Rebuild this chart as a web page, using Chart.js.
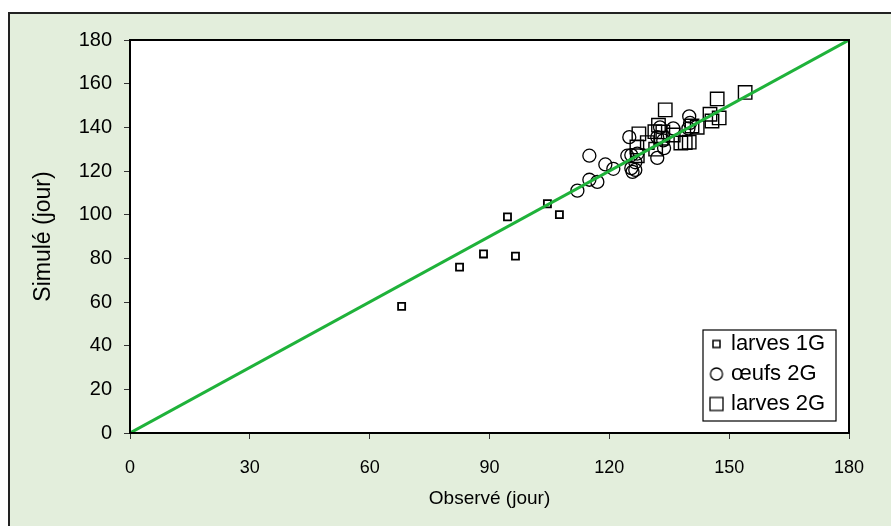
<!DOCTYPE html>
<html>
<head>
<meta charset="utf-8">
<script src="https://cdn.jsdelivr.net/npm/chart.js@4/dist/chart.umd.min.js"></script>
<style>
  body { margin: 0; background: #fff; }
</style>
</head>
<body>
<canvas id="chart" width="891" height="526"></canvas>
<script>
// axis ticks
const xTicks = [0, 30, 60, 90, 120, 150, 180];
const yTicks = [0, 20, 40, 60, 80, 100, 120, 140, 160, 180];

// larves 1G (small squares)
const larves1gX = [68, 82.5, 88.5, 94.5, 96.5, 104.5, 107.5];
const larves1gY = [58, 76, 82, 99, 81, 105, 100];

// oeufs 2G (circles)
const oeufsX = [112, 115, 115, 117, 119, 121, 125, 125.5, 125.5, 126.5, 125.8, 126.5, 132, 133.7, 133.5, 132, 132.7, 136, 140, 139.8, 140.2, 124.5, 127];
const oeufsY = [111, 127, 116, 115, 123, 121, 135.5, 127.3, 121.3, 120.5, 119.6, 124, 126, 130.5, 134, 135.5, 140, 139.5, 145, 139.5, 142, 127, 128];

// larves 2G (big squares)
const larves2gX = [154, 147, 134, 145.2, 145.7, 147.5, 140.7, 140, 137.9, 136, 132.3, 131.4, 127.4, 126.9, 131.6, 133.4, 127, 129.5, 133, 142, 139];
const larves2gY = [156, 153, 148, 146, 142.9, 144.3, 140.6, 133.2, 132.8, 136.5, 141, 138, 137, 131, 130, 137.9, 127, 133, 135, 140, 133];

const pairs = (xs, ys) => xs.map((x, i) => ({x: x, y: ys[i]}));

// little canvases for the legend markers
function marker(kind, size, lw) {
    const c = document.createElement('canvas');
    c.width = c.height = size + 4;
    const g = c.getContext('2d');
    g.strokeStyle = '#000';
    g.lineWidth = lw;
    const m = (size + 4) / 2;
    if (kind === 'circle') {
        g.beginPath();
        g.arc(m, m, size / 2, 0, Math.PI * 2);
        g.stroke();
    } else {
        g.strokeRect(m - size / 2, m - size / 2, size, size);
    }
    return c;
}
const legendMarkers = [marker('rect', 7, 1.5), marker('circle', 12, 1.3), marker('rect', 13, 1.3)];

const framePlugin = {
    id: 'frame',
    afterLayout(chart) {
        // move the legend into its box at the lower right of the plot
        const lg = chart.legend;
        lg.left = 705; lg.right = 840;
        lg.top = 325; lg.bottom = chart.height;
        lg.width = lg.right - lg.left;
        lg.height = lg.bottom - lg.top;
    },
    beforeDraw(chart) {
        const ctx = chart.ctx;
        const a = chart.chartArea;
        ctx.save();
        ctx.fillStyle = '#fff';
        ctx.fillRect(0, 0, chart.width, chart.height);
        ctx.fillStyle = '#e3eedc';
        ctx.fillRect(9, 13, chart.width, chart.height);
        ctx.strokeStyle = '#222';
        ctx.lineWidth = 2;
        ctx.beginPath();
        ctx.moveTo(9, chart.height);
        ctx.lineTo(9, 13);
        ctx.lineTo(chart.width, 13);
        ctx.stroke();
        ctx.fillStyle = '#fff';
        ctx.fillRect(a.left, a.top, a.right - a.left, a.bottom - a.top);
        // legend box
        ctx.lineWidth = 1.2;
        ctx.strokeStyle = '#000';
        ctx.fillRect(703, 330, 133, 91);
        ctx.strokeRect(703, 330, 133, 91);
        ctx.restore();
    },
    afterDraw(chart) {
        const ctx = chart.ctx;
        const a = chart.chartArea;
        ctx.save();
        ctx.strokeStyle = '#000';
        ctx.lineWidth = 2;
        ctx.strokeRect(a.left, a.top, a.right - a.left, a.bottom - a.top);
        ctx.restore();
    }
};

Chart.defaults.color = '#000';
Chart.defaults.font.family = '"Liberation Sans", Arial, sans-serif';

new Chart(document.getElementById('chart').getContext('2d'), {
    type: 'scatter',
    data: {
        datasets: [
            {
                label: '1:1',
                type: 'line',
                data: [{x: 0, y: 0}, {x: 180, y: 180}],
                borderColor: '#1fb23a',
                borderWidth: 3,
                pointRadius: 0,
                fill: false
            },
            {
                label: 'larves 1G',
                data: pairs(larves1gX, larves1gY),
                pointStyle: 'rect',
                pointRadius: 5,
                borderColor: '#000',
                backgroundColor: 'rgba(0,0,0,0)',
                borderWidth: 1.8
            },
            {
                label: 'œufs 2G',
                data: pairs(oeufsX, oeufsY),
                pointStyle: 'circle',
                pointRadius: 6.5,
                borderColor: '#000',
                backgroundColor: 'rgba(0,0,0,0)',
                borderWidth: 1.3
            },
            {
                label: 'larves 2G',
                data: pairs(larves2gX, larves2gY),
                pointStyle: 'rect',
                pointRadius: 9.5,
                borderColor: '#000',
                backgroundColor: 'rgba(0,0,0,0)',
                borderWidth: 1.4
            }
        ]
    },
    options: {
        responsive: false,
        animation: false,
        events: [],
        layout: { padding: { top: 40, right: 42, left: 0, bottom: 0 } },
        plugins: {
            tooltip: { enabled: false },
            legend: {
                position: 'chartArea',
                align: 'start',
                labels: {
                    usePointStyle: true,
                    boxWidth: 7,
                    boxHeight: 7,
                    padding: 8,
                    font: { size: 22 },
                    generateLabels: chart => chart.data.datasets.slice(1).map((ds, i) => ({
                        text: ds.label,
                        pointStyle: legendMarkers[i],
                        fillStyle: 'rgba(0,0,0,0)',
                        strokeStyle: '#000',
                        lineWidth: 0,
                        datasetIndex: i + 1
                    }))
                }
            }
        },
        scales: {
            x: {
                type: 'linear',
                min: 0,
                max: 180,
                afterFit: s => { s.height = 93; },
                afterBuildTicks: s => { s.ticks = xTicks.map(v => ({value: v})); },
                border: { display: false },
                grid: { drawOnChartArea: false, drawTicks: true, tickLength: 6, color: '#333' },
                ticks: { padding: 18, font: { size: 18 } },
                title: {
                    display: true,
                    text: 'Observé (jour)',
                    padding: { top: 0, bottom: 16 },
                    font: { size: 19 }
                }
            },
            y: {
                type: 'linear',
                min: 0,
                max: 180,
                afterFit: s => { s.width = 130; },
                afterBuildTicks: s => { s.ticks = yTicks.map(v => ({value: v})); },
                border: { display: false },
                grid: { drawOnChartArea: false, drawTicks: true, tickLength: 6, color: '#333' },
                ticks: { padding: 12, font: { size: 20 } },
                title: {
                    display: true,
                    text: 'Simulé (jour)',
                    padding: { top: 30, bottom: 0 },
                    font: { size: 23 }
                }
            }
        }
    },
    plugins: [framePlugin]
});
</script>
</body>
</html>
